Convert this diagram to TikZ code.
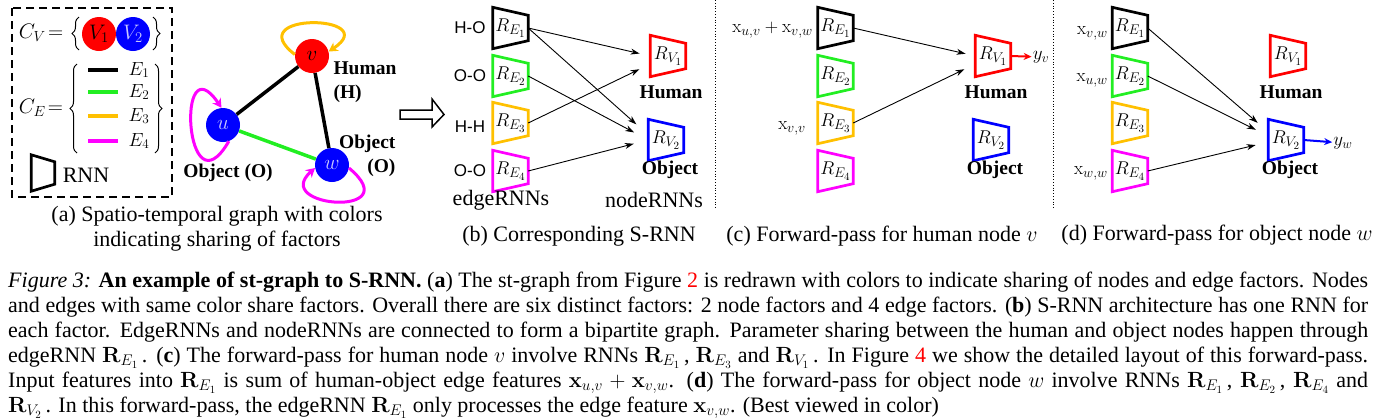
\RequirePackage{fix-cm}
\documentclass[tikz,border=0pt]{standalone}
\usepackage[no-math]{fontspec}
\setmainfont{Liberation Serif}
\newfontfamily\pairfont{Liberation Sans}
\usepackage{tikz}
\usetikzlibrary{arrows.meta,positioning,decorations.pathreplacing,calc}
\definecolor{facEtwo}{HTML}{22EE22}
\definecolor{facEthree}{HTML}{FFC000}
\definecolor{facEfour}{HTML}{FF00FF}
\definecolor{facVone}{HTML}{FF0000}
\definecolor{facVtwo}{HTML}{0000FF}
\definecolor{paletxt}{HTML}{C8C8FF}
\DeclareMathSizes{18.5}{18.5}{14}{11}

\newcommand{\rnnshape}[3]{%
  \draw[#2,line width=2.7pt,line join=miter] (#1.north west) -- ([yshift=-#3]#1.north east)
    -- ([yshift=#3]#1.south east) -- (#1.south west) -- cycle;}

\begin{document}
\begin{tikzpicture}[x=1pt,y=-1pt,
  rnn/.style={minimum width=35pt,minimum height=41pt,inner sep=0pt,font=\fontsize{18.5}{18.5}\selectfont},
  stnode/.style={circle,minimum size=34pt,inner sep=0pt,font=\fontsize{21}{21}\selectfont},
  conn/.style={-{Stealth[length=9pt,width=6pt]},line width=0.9pt},
  outarr/.style={-{Stealth[length=8pt,width=7pt]},line width=2pt},
  role/.style={font=\fontsize{19.5}{24}\selectfont\bfseries},
  capt/.style={font=\fontsize{22}{25}\selectfont,align=center},
  pairlbl/.style={font=\pairfont\fontsize{17}{17}\selectfont},
  feat/.style={font=\fontsize{18.5}{18.5}\selectfont,anchor=east,inner sep=1pt},
  stedge/.style={line width=3.5pt},
  selfloop/.style={line width=3pt,-{Stealth[length=9pt,width=10pt]}},
  brace/.style={decorate,decoration={brace,amplitude=7pt},line width=1pt}]

\useasboundingbox (0,0) rectangle (1374,418);

\draw[line width=2.2pt,dash pattern=on 8pt off 5pt] (12,8) rectangle (172,197);
\node[font=\fontsize{21}{21}\selectfont] (cv) at (41,33) {$C_V\!=$};
\node[stnode,fill=facVone] (V1) at (99,34) {$V_1$};
\node[stnode,fill=facVtwo,text=paletxt] (V2) at (133,34) {$V_2$};
\draw[brace] (79,50) -- (79,17);
\draw[brace] (153,17) -- (153,50);
\node[font=\fontsize{21}{21}\selectfont] (ce) at (41,108) {$C_E\!=$};
\draw[brace] (77,153) -- (77,64);
\draw[brace] (155,64) -- (155,153);
\foreach \i/\y/\col in {1/70/black,2/92/facEtwo,3/116/facEthree,4/141/facEfour}{
  \draw[\col,line width=4pt] (88,\y) -- (118,\y);
  \node[font=\fontsize{19}{19}\selectfont] (le\i) at (139,\y) {$E_\i$};
}
\node[minimum width=23pt,minimum height=36pt,inner sep=0pt] (icon) at (43,173) {};
\rnnshape{icon}{black}{7pt}
\node[font=\fontsize{22}{22}\selectfont] (iconlbl) at (86,175) {RNN};

\node[stnode,fill=facVone] (v) at (312,56) {$v$};
\node[stnode,fill=facVtwo,text=paletxt] (u) at (223,125) {$u$};
\node[stnode,fill=facVtwo,text=paletxt] (w) at (332,165) {$w$};
\draw[stedge] (v) -- (u);
\draw[stedge] (v) -- (w);
\draw[stedge,facEtwo] (u) -- (w);
\draw[selfloop,facEthree] (v.175) .. controls +(-56,-43) and +(56,-37) .. (v.15);
\draw[selfloop,facEfour] (u.290) .. controls +(-44,76) and +(-46,-68) .. (u.95);
\draw[selfloop,facEfour] (w.350) .. controls +(60,50) and +(-45,40) .. (w.190);
\node[role,align=left,anchor=west] (hlbl) at (330,82) {Human\\(H)};
\node[role,align=right,anchor=east] (olbl) at (399,156) {Object\\(O)};
\node[role] (ulbl) at (228,173) {Object (O)};
\node[capt] (capa) at (217,229) {(a) Spatio-temporal graph with colors\\indicating sharing of factors};

\draw[line width=1.5pt,line join=miter] (400,110) -- (432,110) -- (432,99) -- (444,114.5)
  -- (432,127) -- (432,119) -- (400,119) -- cycle;

\foreach \p/\xe/\xv in {b/510.5/668,c/835.5/993,d/1130/1288}{
  \foreach \i/\y/\col in {1/28/black,2/76/facEtwo,3/123/facEthree,4/171/facEfour}{
    \node[rnn] (\p e\i) at (\xe,\y) {$R_{E_\i}$};
    \rnnshape{\p e\i}{\col}{8pt}
  }
  \node[rnn] (\p v1) at (\xv,56) {$R_{V_1}$};
  \rnnshape{\p v1}{facVone}{8pt}
  \node[rnn] (\p v2) at (\xv-2,140) {$R_{V_2}$};
  \rnnshape{\p v2}{facVtwo}{8pt}
  \node[role] (\p hum) at (\xv+3,92) {Human};
  \node[role] (\p obj) at (\xv+2,170) {Object};
}

\foreach \i/\t/\y in {1/H-O/28,2/O-O/76,3/H-H/127,4/O-O/171}
  \node[pairlbl] (pair\i) at (470,\y) {\t};
\node[capt] (edgernns) at (501,200) {edgeRNNs};
\node[capt] (nodernns) at (654,200) {nodeRNNs};
\draw[conn,shorten >=11pt] (be1.east) -- (bv1.west);
\draw[conn,shorten >=16pt] (be1.east) -- ([yshift=5pt]bv2.west);
\draw[conn,shorten >=16pt] (be2.east) -- (bv2.west);
\draw[conn,shorten >=12pt] (be3.east) -- ([yshift=-8pt]bv1.west);
\draw[conn,shorten >=15pt] (be4.east) -- (bv2.west);
\node[capt] (capb) at (579,236) {(b) Corresponding S-RNN};

\draw[dotted,line width=0.8pt] (715,0) -- (715,208);
\node[feat] (fuvw) at (814,30) {$\mathrm{x}_{u,v}+\mathrm{x}_{v,w}$};
\node[feat] (fvv) at (807,128) {$\mathrm{x}_{v,v}$};
\draw[conn,shorten >=10pt] (ce1.east) -- (cv1.west);
\draw[conn,shorten >=12pt] (ce3.east) -- ([yshift=-8pt]cv1.west);
\node[font=\fontsize{19}{19}\selectfont,inner sep=1pt] (yv) at (1041,57) {$y_v$};
\draw[outarr,facVone] (cv1.east) -- (yv);
\node[capt] (capc) at (882,236) {(c) Forward-pass for human node $v$};

\draw[dotted,line width=0.8pt] (1053,0) -- (1053,208);
\node[feat] (fvw) at (1109,33) {$\mathrm{x}_{v,w}$};
\node[feat] (fuw) at (1109,80) {$\mathrm{x}_{u,w}$};
\node[feat] (fww) at (1109,173) {$\mathrm{x}_{w,w}$};
\draw[conn,shorten >=14pt] (de1.east) -- ([yshift=8pt]dv2.west);
\draw[conn,shorten >=14pt] (de2.east) -- ([yshift=4pt]dv2.west);
\draw[conn,shorten >=13pt] (de4.east) -- ([yshift=-2pt]dv2.west);
\node[font=\fontsize{19}{19}\selectfont,inner sep=1pt] (yw) at (1343,143) {$y_w$};
\draw[outarr,facVtwo] (dv2.east) -- (yw);
\node[capt] (capd) at (1217,235) {(d) Forward-pass for object node $w$};

\node[anchor=north west,text width=1360pt,align=justify,inner sep=0pt,
  font=\fontsize{22}{25}\selectfont] (figcap) at (8,272) {\textit{Figure 3:} \textbf{An example of st-graph to S-RNN.} (\textbf{a}) The st-graph from Figure \textcolor{red}{2} is redrawn with colors to indicate sharing of nodes and edge factors. Nodes\linebreak
and edges with same color share factors. Overall there are six distinct factors: 2 node factors and 4 edge factors. (\textbf{b}) S-RNN architecture has one RNN for\linebreak
each factor. EdgeRNNs and nodeRNNs are connected to form a bipartite graph. Parameter sharing between the human and object nodes happen through\linebreak
edgeRNN $\mathbf{R}_{E_1}$\,. (\textbf{c}) The forward-pass for human node $v$ involve RNNs $\mathbf{R}_{E_1}$\,, $\mathbf{R}_{E_3}$ and $\mathbf{R}_{V_1}$\,. In Figure \textcolor{red}{4} we show the detailed layout of this forward-pass.\linebreak
Input features into $\mathbf{R}_{E_1}$ is sum of human-object edge features $\mathbf{x}_{u,v}+\mathbf{x}_{v,w}$. (\textbf{d}) The forward-pass for object node $w$ involve RNNs $\mathbf{R}_{E_1}$\,, $\mathbf{R}_{E_2}$\,, $\mathbf{R}_{E_4}$ and\linebreak
$\mathbf{R}_{V_2}$\,. In this forward-pass, the edgeRNN $\mathbf{R}_{E_1}$ only processes the edge feature $\mathbf{x}_{v,w}$. (Best viewed in color)};
\end{tikzpicture}
\end{document}
